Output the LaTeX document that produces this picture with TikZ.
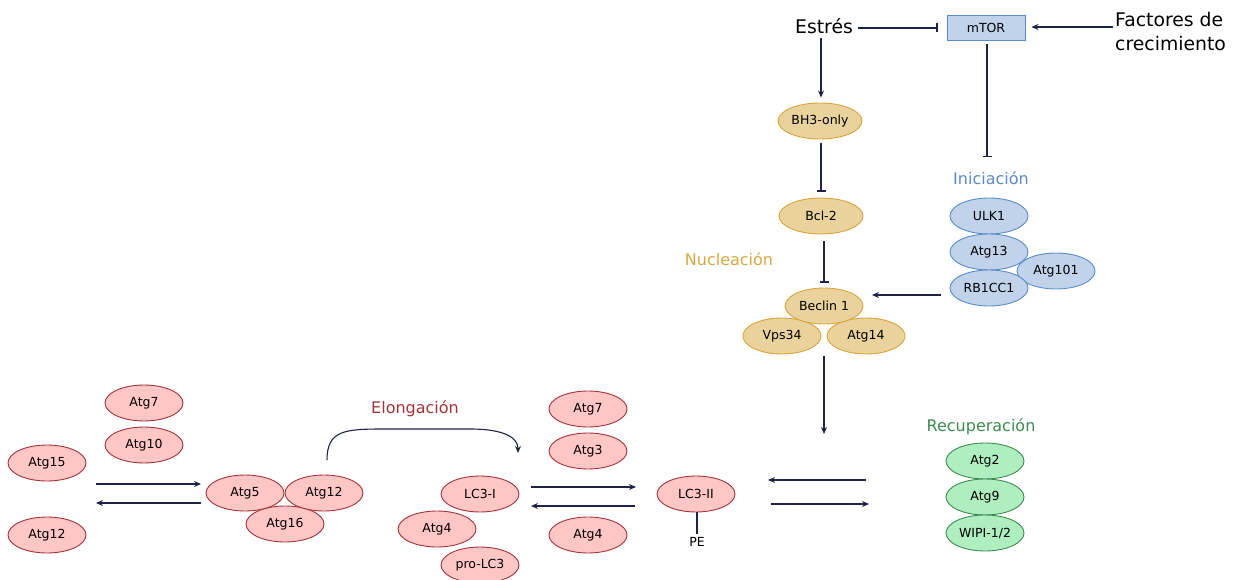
\documentclass[tikz,border=0pt]{standalone}
\usepackage{fontspec}
\setmainfont{DejaVu Sans}
\usetikzlibrary{shapes.geometric,arrows.meta}
\definecolor{navy}{HTML}{1F2347}
\definecolor{bluefill}{HTML}{C0D3EA}
\definecolor{blueline}{HTML}{5B8CC8}
\definecolor{yelfill}{HTML}{E9D29C}
\definecolor{yelline}{HTML}{D6A53A}
\definecolor{pinkfill}{HTML}{FFC6C6}
\definecolor{pinkline}{HTML}{A3333A}
\definecolor{grnfill}{HTML}{AEEEBF}
\definecolor{grnline}{HTML}{3E8A52}
\definecolor{nuctext}{HTML}{D9A845}
\definecolor{initext}{HTML}{5B8AC6}
\definecolor{elotext}{HTML}{A3333A}
\definecolor{rectext}{HTML}{3C8A50}
\begin{document}
\begin{tikzpicture}[x=1pt,y=-1pt,
  prot/.style={ellipse, line width=0.9pt, minimum width=78pt, minimum height=36pt, inner sep=0pt, font=\fontsize{12.5}{15}\selectfont},
  blue/.style={prot, draw=blueline, fill=bluefill},
  yel/.style={prot, draw=yelline, fill=yelfill},
  pink/.style={prot, draw=pinkline, fill=pinkfill},
  grn/.style={prot, draw=grnline, fill=grnfill},
  bigtext/.style={inner sep=0pt, font=\fontsize{18.8}{24}\selectfont},
  phase/.style={inner sep=0pt, font=\fontsize{16}{19}\selectfont},
  arr/.style={draw=navy, line width=1.1pt, -{Stealth[length=7pt,width=6pt]}},
  inh/.style={draw=navy, line width=1.1pt, -{Bar[width=9pt,line width=1.1pt]}},
  plain/.style={draw=navy, line width=1.1pt}
]
\useasboundingbox (0,0) rectangle (1240,580);

% top
\node[bigtext] (estres) at (824,26) {Estrés};
\node[draw=blueline, fill=bluefill, line width=0.9pt, minimum width=78pt, minimum height=25pt, inner sep=0pt, font=\fontsize{12.5}{15}\selectfont] (mtor) at (986,28) {mTOR};
\node[bigtext, align=left, anchor=west] (fac) at (1115,31) {Factores de\\crecimiento};

% nucleation
\node[yel, minimum width=84pt] (bh3) at (820,121) {BH3-only};
\node[yel, minimum width=84pt] (bcl2) at (821,216) {Bcl-2};
\node[phase, text=nuctext] (nuc) at (729,259) {Nucleación};
\node[yel] (vps) at (782,336) {Vps34};
\node[yel] (atg14) at (866,336) {Atg14};
\node[yel] (beclin) at (824,306) {Beclin 1};

% initiation
\node[phase, text=initext] (inic) at (991,178) {Iniciación};
\node[blue] (ulk) at (989,216) {ULK1};
\node[blue] (atg13) at (989,252) {Atg13};
\node[blue] (atg101) at (1056,271) {Atg101};
\node[blue] (rb) at (989,288) {RB1CC1};

% recovery
\node[phase, text=rectext] (recu) at (981,427) {Recuperación};
\node[grn] (atg2) at (985,461) {Atg2};
\node[grn] (atg9) at (985,497) {Atg9};
\node[grn] (wipi) at (985,533) {WIPI-1/2};

% elongation left
\node[pink] (atg7a) at (144,403) {Atg7};
\node[pink] (atg10) at (144,445) {Atg10};
\node[pink] (atg15) at (47,463) {Atg15};
\node[pink] (atg12a) at (47,535) {Atg12};
\node[pink] (atg16) at (285,524) {Atg16};
\node[pink] (atg5) at (245,493) {Atg5};
\node[pink] (atg12b) at (324,493) {Atg12};
\node[phase, text=elotext] (elong) at (415,409) {Elongación};

% elongation middle
\node[pink] (atg7b) at (588,409) {Atg7};
\node[pink] (atg3) at (588,451) {Atg3};
\node[pink] (atg4b) at (588,535) {Atg4};
\node[pink] (prolc3) at (480,565) {pro-LC3};
\node[pink] (atg4a) at (437,529) {Atg4};
\node[pink] (lc3i) at (480,494) {LC3-I};
\node[pink] (lc3ii) at (696,494) {LC3-II};
\node[inner sep=0pt, font=\fontsize{12.5}{15}\selectfont] (pe) at (697,542) {PE};

% coordinates
\coordinate (mtorbar) at (987,157);
\coordinate (rbstart) at (941,295);
\coordinate (becend) at (872,295);
\coordinate (cplx) at (824,356);
\coordinate (cplxend) at (824,434);
\coordinate (l1a) at (96,484);
\coordinate (l1b) at (201,484);
\coordinate (l2a) at (201,503);
\coordinate (l2b) at (96,503);
\coordinate (m1a) at (531,487);
\coordinate (m1b) at (636,487);
\coordinate (m2a) at (635,506);
\coordinate (m2b) at (531,506);
\coordinate (r1a) at (866,480);
\coordinate (r1b) at (768,480);
\coordinate (r2a) at (771,504);
\coordinate (r2b) at (869,504);
\coordinate (elA) at (327,460);
\coordinate (elB) at (518,453);

% connectors
\draw[inh] ([xshift=5pt]estres.east |- mtor.west) -- ([xshift=-9pt]mtor.west);
\draw[arr] ([xshift=-2pt,yshift=4pt]fac.west) -- ([xshift=6pt,yshift=1pt]mtor.east);
\draw[arr] ([yshift=-4pt]estres.south -| 821,0) -- ([yshift=5pt]bh3.north -| 821,0);
\draw[inh] ([yshift=-4pt]bh3.south -| 821,0) -- ([yshift=6pt]bcl2.north);
\draw[inh] ([yshift=-7pt]bcl2.south -| beclin.north) -- ([yshift=5pt]beclin.north);
\draw[inh] ([yshift=-3pt]mtor.south -| mtorbar) -- (mtorbar);
\draw[arr] (rbstart) -- (becend);
\draw[arr] (cplx) -- (cplxend);
\draw[arr] (l1a) -- (l1b);
\draw[arr] (l2a) -- (l2b);
\draw[arr] (m1a) -- (m1b);
\draw[arr] (m2a) -- (m2b);
\draw[arr] (r1a) -- (r1b);
\draw[arr] (r2a) -- (r2b);
\draw[plain] (lc3ii.south -| pe.north) -- ([yshift=3pt]pe.north);
\draw[arr] (elA) .. controls (327,430) and (345,429) .. (385,429) -- (470,429) .. controls (505,429) and (518,438) .. (elB);
\end{tikzpicture}
\end{document}
